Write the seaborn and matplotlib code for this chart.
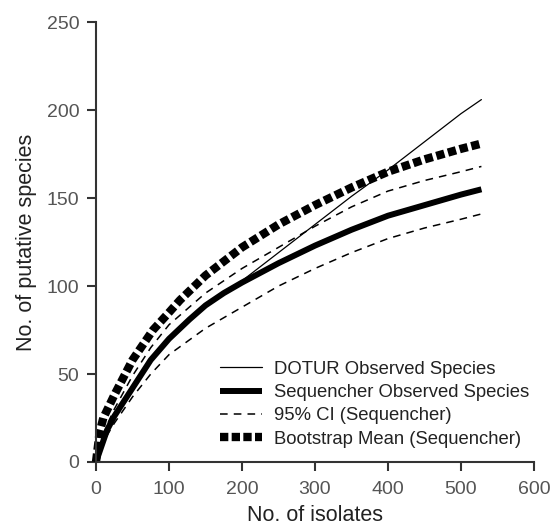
import seaborn as sns
import matplotlib.pyplot as plt
import matplotlib

# Values
dotur_x = [0, 15, 25, 50, 75, 100, 128, 150, 175, 200, 250, 300, 350, 400, 450, 500, 528]
dotur_y = [0, 18, 26, 42, 58, 70, 81, 89, 96, 103, 119, 135, 151, 166, 182, 198, 206]

seq_x = [0, 15, 25, 50, 75, 100, 128, 150, 175, 200, 250, 300, 350, 400, 450, 500, 528]
seq_y = [0, 18, 26, 42, 58, 70, 81, 89, 96, 102, 113, 123, 132, 140, 146, 152, 155]

ci_x = [0, 15, 25, 50, 75, 100, 150, 200, 250, 300, 350, 400, 450, 500, 528]
ci_hi = [0, 21, 30, 49, 65, 78, 96, 110, 122, 134, 145, 154, 160, 165, 168]
ci_lo = [0, 15, 22, 37, 50, 61, 76, 88, 100, 110, 119, 127, 133, 138, 141]

boot_x = [0, 5, 10, 25, 50, 78, 100, 115, 150, 200, 250, 300, 350, 400, 450, 500, 528]
boot_y = [0, 17, 25, 38, 58, 75, 85, 92, 106, 122, 135, 146, 156, 165, 172, 178, 181]

x_ticks = [0, 100, 200, 300, 400, 500, 600]
y_ticks = [0, 50, 100, 150, 200, 250]


def main():
    sns.set_style("ticks")
    matplotlib.rcParams['font.family'] = ['Liberation Sans', 'DejaVu Sans']
    grey = "#333333"

    fig = plt.figure(figsize=(5.53, 5.28), dpi=100)
    ax = fig.add_axes([0.1736, 0.125, 0.792, 0.833])

    sns.lineplot(x=dotur_x, y=dotur_y, ax=ax, color="black", linewidth=0.9,
                 label="DOTUR Observed Species", clip_on=False)
    sns.lineplot(x=seq_x, y=seq_y, ax=ax, color="black", linewidth=4.3,
                 label="Sequencher Observed Species", clip_on=False)
    sns.lineplot(x=ci_x, y=ci_hi, ax=ax, color="black", linewidth=1.1,
                 label="95% CI (Sequencher)", clip_on=False)
    sns.lineplot(x=ci_x, y=ci_lo, ax=ax, color="black", linewidth=1.1,
                 clip_on=False)
    sns.lineplot(x=boot_x, y=boot_y, ax=ax, color="black", linewidth=6.0,
                 label="Bootstrap Mean (Sequencher)", clip_on=False)

    lines = ax.get_lines()
    lines[1].set_solid_capstyle("butt")
    lines[2].set_dashes([5, 4])
    lines[3].set_dashes([5, 4])
    lines[4].set_dashes([1.0, 0.45])
    lines[4].set_dash_capstyle("butt")

    ax.set_xlim(0, 600)
    ax.set_ylim(0, 250)
    ax.set_xticks(x_ticks)
    ax.set_yticks(y_ticks)
    ax.tick_params(colors=grey, labelcolor="#555555", labelsize=14,
                   length=6.5, width=1.5)
    ax.tick_params(axis="x", pad=7)
    ax.tick_params(axis="y", pad=5.5)
    for side in ["left", "bottom"]:
        ax.spines[side].set_color(grey)
        ax.spines[side].set_linewidth(1.5)
    sns.despine(ax=ax)

    ax.set_xlabel("No. of isolates", fontsize=15.5, color="#222222", labelpad=5)
    ax.set_ylabel("No. of putative species", fontsize=15.5, color="#222222",
                  labelpad=7)

    leg = ax.legend(loc="lower left", bbox_to_anchor=(0.283, 0.032),
                    frameon=False, fontsize=13.3, handlelength=2.3,
                    handletextpad=0.6, labelspacing=0.35, borderaxespad=0,
                    borderpad=0)
    for t in leg.get_texts():
        t.set_color("#222222")
    leg_lines = leg.get_lines()
    leg_lines[1].set_solid_capstyle("butt")
    leg_lines[2].set_dashes([5, 4])
    leg_lines[3].set_dashes([1.0, 0.4])
    leg_lines[3].set_dash_capstyle("butt")

    plt.savefig("out.png", dpi=100)


if __name__ == "__main__":
    main()
